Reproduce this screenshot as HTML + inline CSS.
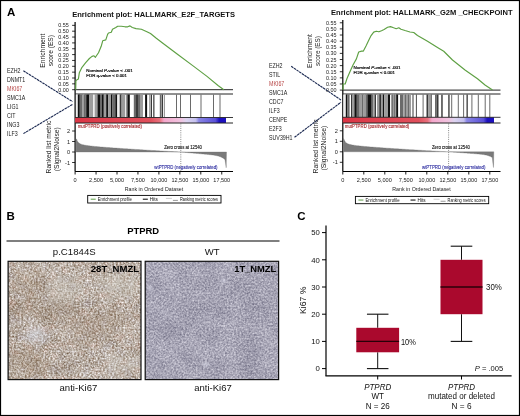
<!DOCTYPE html>
<html><head><meta charset="utf-8"><title>Figure</title>
<style>html,body{margin:0;padding:0;background:#fff;width:520px;height:416px;overflow:hidden;position:relative}
text{font-family:"Liberation Sans", sans-serif}</style></head>
<body>
<svg width="520" height="416" viewBox="0 0 520 416" style="position:absolute;left:0;top:0;will-change:transform">
<defs>
<linearGradient id="gbL" gradientUnits="userSpaceOnUse" x1="75.1" y1="0" x2="226" y2="0">
<stop offset="0" stop-color="#dc3545"/><stop offset="0.5" stop-color="#e0505c"/><stop offset="0.56" stop-color="#e8707c"/>
<stop offset="0.59" stop-color="#f4a8cc"/><stop offset="0.7" stop-color="#f0c4e0"/><stop offset="0.74" stop-color="#dcd4f0"/>
<stop offset="0.8" stop-color="#c4c0ee"/><stop offset="0.82" stop-color="#8a86e4"/><stop offset="0.93" stop-color="#5a50d8"/>
<stop offset="0.955" stop-color="#1c10be"/><stop offset="1" stop-color="#1c10be"/></linearGradient>
<linearGradient id="gbR" gradientUnits="userSpaceOnUse" x1="342.8" y1="0" x2="494" y2="0">
<stop offset="0" stop-color="#dc3545"/><stop offset="0.5" stop-color="#e0505c"/><stop offset="0.56" stop-color="#e8707c"/>
<stop offset="0.59" stop-color="#f4a8cc"/><stop offset="0.7" stop-color="#f0c4e0"/><stop offset="0.74" stop-color="#dcd4f0"/>
<stop offset="0.8" stop-color="#c4c0ee"/><stop offset="0.82" stop-color="#8a86e4"/><stop offset="0.93" stop-color="#5a50d8"/>
<stop offset="0.955" stop-color="#1c10be"/><stop offset="1" stop-color="#1c10be"/></linearGradient>
<filter id="texL" x="0" y="0" width="1" height="1" color-interpolation-filters="sRGB">
 <feTurbulence type="fractalNoise" baseFrequency="0.55" numOctaves="2" seed="3" result="t1"/>
 <feColorMatrix in="t1" type="matrix" values="1 0 0 0 0  1 0 0 0 0  1 0 0 0 0  0 0 0 0 1" result="n1"/>
 <feTurbulence type="fractalNoise" baseFrequency="0.05" numOctaves="2" seed="9" result="t2"/>
 <feColorMatrix in="t2" type="matrix" values="1 0 0 0 0  1 0 0 0 0  1 0 0 0 0  0 0 0 0 1" result="n2"/>
 <feTurbulence type="fractalNoise" baseFrequency="0.12" numOctaves="2" seed="21" result="t3"/>
 <feColorMatrix in="t3" type="matrix" values="0.11 0 0 0 -0.055  0 0 0 0 0  -0.09 0 0 0 0.045  0 0 0 0 1" result="h"/>
 <feComposite in="n1" in2="n2" operator="arithmetic" k1="0" k2="0.6" k3="0.16" k4="0.12" result="n"/>
 <feColorMatrix in="n" type="matrix" values="1 0 0 0 0.1577  1.15 0 0 0 0.0312  1.3 0 0 0 -0.09374  0 0 0 0 1" result="c0"/>
 <feComposite in="c0" in2="h" operator="arithmetic" k1="0" k2="1" k3="1" k4="0" result="c1"/>
 <feGaussianBlur in="c1" stdDeviation="0.35" result="c"/>
 <feComposite in="c" in2="SourceGraphic" operator="in"/>
</filter>
<filter id="texR" x="0" y="0" width="1" height="1" color-interpolation-filters="sRGB">
 <feTurbulence type="fractalNoise" baseFrequency="0.55" numOctaves="2" seed="5" result="t1"/>
 <feColorMatrix in="t1" type="matrix" values="1 0 0 0 0  1 0 0 0 0  1 0 0 0 0  0 0 0 0 1" result="n1"/>
 <feTurbulence type="fractalNoise" baseFrequency="0.05" numOctaves="2" seed="11" result="t2"/>
 <feColorMatrix in="t2" type="matrix" values="1 0 0 0 0  1 0 0 0 0  1 0 0 0 0  0 0 0 0 1" result="n2"/>
 <feComposite in="n1" in2="n2" operator="arithmetic" k1="0" k2="0.36" k3="0.1" k4="0.27" result="n"/>
 <feColorMatrix in="n" type="matrix" values="1 0 0 0 -0.03477  1 0 0 0 -0.04274  0.9 0 0 0 0.089  0 0 0 0 1" result="c0"/>
 <feGaussianBlur in="c0" stdDeviation="0.35" result="c"/>
 <feComposite in="c" in2="SourceGraphic" operator="in"/>
</filter>
<filter id="soft" x="-20%" y="-20%" width="140%" height="140%"><feGaussianBlur stdDeviation="5"/></filter>
<clipPath id="clipL"><rect x="8.1" y="261.3" width="132.9" height="118.3"/></clipPath>
<clipPath id="clipR"><rect x="145.2" y="261.3" width="133.4" height="118.3"/></clipPath>
<radialGradient id="blob" cx="0.5" cy="0.5" r="0.5"><stop offset="0" stop-color="#d4d8e2" stop-opacity="0.5"/><stop offset="0.5" stop-color="#d0d4e0" stop-opacity="0.35"/><stop offset="1" stop-color="#d0d0dc" stop-opacity="0"/></radialGradient>
<radialGradient id="blob2" cx="0.5" cy="0.5" r="0.5"><stop offset="0" stop-color="#dcdcea" stop-opacity="0.55"/><stop offset="0.6" stop-color="#d8d8e6" stop-opacity="0.35"/><stop offset="1" stop-color="#d0d0e0" stop-opacity="0"/></radialGradient>
</defs>
<g font-family='"Liberation Sans", sans-serif'>
<rect x="0" y="0" width="520" height="416" fill="#fff" />
<rect x="0.5" y="0.5" width="519" height="415" fill="none" stroke="#000" stroke-width="1.2"/>
<text x="7" y="16" font-size="11.5" text-anchor="start" font-weight="bold" font-style="normal" fill="#000" >A</text>
<line x1="72.1" y1="89.7" x2="75.1" y2="89.7" stroke="#000" stroke-width="0.8" />
<text x="68.8" y="91.7" font-size="5.7" text-anchor="end" font-weight="normal" font-style="normal" fill="#222" textLength="10.5" lengthAdjust="spacingAndGlyphs" >0.00</text>
<line x1="72.1" y1="83.85000000000001" x2="75.1" y2="83.85000000000001" stroke="#000" stroke-width="0.8" />
<text x="68.8" y="85.85000000000001" font-size="5.7" text-anchor="end" font-weight="normal" font-style="normal" fill="#222" textLength="10.5" lengthAdjust="spacingAndGlyphs" >0.05</text>
<line x1="72.1" y1="78.0" x2="75.1" y2="78.0" stroke="#000" stroke-width="0.8" />
<text x="68.8" y="80.0" font-size="5.7" text-anchor="end" font-weight="normal" font-style="normal" fill="#222" textLength="10.5" lengthAdjust="spacingAndGlyphs" >0.10</text>
<line x1="72.1" y1="72.15" x2="75.1" y2="72.15" stroke="#000" stroke-width="0.8" />
<text x="68.8" y="74.15" font-size="5.7" text-anchor="end" font-weight="normal" font-style="normal" fill="#222" textLength="10.5" lengthAdjust="spacingAndGlyphs" >0.15</text>
<line x1="72.1" y1="66.30000000000001" x2="75.1" y2="66.30000000000001" stroke="#000" stroke-width="0.8" />
<text x="68.8" y="68.30000000000001" font-size="5.7" text-anchor="end" font-weight="normal" font-style="normal" fill="#222" textLength="10.5" lengthAdjust="spacingAndGlyphs" >0.20</text>
<line x1="72.1" y1="60.45" x2="75.1" y2="60.45" stroke="#000" stroke-width="0.8" />
<text x="68.8" y="62.45" font-size="5.7" text-anchor="end" font-weight="normal" font-style="normal" fill="#222" textLength="10.5" lengthAdjust="spacingAndGlyphs" >0.25</text>
<line x1="72.1" y1="54.60000000000001" x2="75.1" y2="54.60000000000001" stroke="#000" stroke-width="0.8" />
<text x="68.8" y="56.60000000000001" font-size="5.7" text-anchor="end" font-weight="normal" font-style="normal" fill="#222" textLength="10.5" lengthAdjust="spacingAndGlyphs" >0.30</text>
<line x1="72.1" y1="48.75000000000001" x2="75.1" y2="48.75000000000001" stroke="#000" stroke-width="0.8" />
<text x="68.8" y="50.75000000000001" font-size="5.7" text-anchor="end" font-weight="normal" font-style="normal" fill="#222" textLength="10.5" lengthAdjust="spacingAndGlyphs" >0.35</text>
<line x1="72.1" y1="42.900000000000006" x2="75.1" y2="42.900000000000006" stroke="#000" stroke-width="0.8" />
<text x="68.8" y="44.900000000000006" font-size="5.7" text-anchor="end" font-weight="normal" font-style="normal" fill="#222" textLength="10.5" lengthAdjust="spacingAndGlyphs" >0.40</text>
<line x1="72.1" y1="37.050000000000004" x2="75.1" y2="37.050000000000004" stroke="#000" stroke-width="0.8" />
<text x="68.8" y="39.050000000000004" font-size="5.7" text-anchor="end" font-weight="normal" font-style="normal" fill="#222" textLength="10.5" lengthAdjust="spacingAndGlyphs" >0.45</text>
<line x1="72.1" y1="31.200000000000003" x2="75.1" y2="31.200000000000003" stroke="#000" stroke-width="0.8" />
<text x="68.8" y="33.2" font-size="5.7" text-anchor="end" font-weight="normal" font-style="normal" fill="#222" textLength="10.5" lengthAdjust="spacingAndGlyphs" >0.50</text>
<line x1="72.1" y1="25.35000000000001" x2="75.1" y2="25.35000000000001" stroke="#000" stroke-width="0.8" />
<text x="68.8" y="27.35000000000001" font-size="5.7" text-anchor="end" font-weight="normal" font-style="normal" fill="#222" textLength="10.5" lengthAdjust="spacingAndGlyphs" >0.55</text>
<g transform="translate(45.2,50.7) rotate(-90)">
<text x="0" y="0" font-size="6.9" text-anchor="middle" font-weight="normal" font-style="normal" fill="#222" textLength="34.3" lengthAdjust="spacingAndGlyphs" >Enrichment</text>
<text x="0" y="8.0" font-size="6.9" text-anchor="middle" font-weight="normal" font-style="normal" fill="#222" textLength="31.3" lengthAdjust="spacingAndGlyphs" >score (ES)</text>
</g>
<line x1="75.1" y1="22" x2="75.1" y2="171.5" stroke="#000" stroke-width="1.2" />
<line x1="75.1" y1="89.7" x2="233" y2="89.7" stroke="#222" stroke-width="1" />
<line x1="75.1" y1="94" x2="233" y2="94" stroke="#222" stroke-width="1" />
<rect x="76" y="94.5" width="1.7999999999999972" height="23.0" fill="#eeeeee" />
<rect x="77.8" y="94.5" width="2.0" height="23.0" fill="#111" />
<rect x="79.8" y="94.5" width="2.799999999999997" height="23.0" fill="#6a6a6a" />
<rect x="82.6" y="94.5" width="1.4000000000000057" height="23.0" fill="#9c9c9c" />
<rect x="84" y="94.5" width="1.5" height="23.0" fill="#6a6a6a" />
<rect x="85.5" y="94.5" width="1.5" height="23.0" fill="#3a3a3a" />
<rect x="87" y="94.5" width="2.4000000000000057" height="23.0" fill="#111" />
<rect x="89.4" y="94.5" width="3.799999999999997" height="23.0" fill="#9c9c9c" />
<rect x="93.2" y="94.5" width="1.5" height="23.0" fill="#eeeeee" />
<rect x="94.7" y="94.5" width="2.799999999999997" height="23.0" fill="#9c9c9c" />
<rect x="97.5" y="94.5" width="2.5" height="23.0" fill="#111" />
<rect x="100" y="94.5" width="1.9000000000000057" height="23.0" fill="#6a6a6a" />
<rect x="101.9" y="94.5" width="1.8999999999999915" height="23.0" fill="#111" />
<rect x="103.8" y="94.5" width="2.4000000000000057" height="23.0" fill="#9c9c9c" />
<rect x="106.2" y="94.5" width="1.8999999999999915" height="23.0" fill="#111" />
<rect x="108.1" y="94.5" width="2.9000000000000057" height="23.0" fill="#9c9c9c" />
<rect x="111" y="94.5" width="1.5" height="23.0" fill="#111" />
<rect x="112.5" y="94.5" width="2.799999999999997" height="23.0" fill="#6a6a6a" />
<rect x="115.3" y="94.5" width="2.0" height="23.0" fill="#111" />
<rect x="117.3" y="94.5" width="2.4000000000000057" height="23.0" fill="#eeeeee" />
<rect x="119.7" y="94.5" width="1.8999999999999915" height="23.0" fill="#3a3a3a" />
<rect x="121.6" y="94.5" width="3.6000000000000085" height="23.0" fill="#9c9c9c" />
<rect x="126.3" y="94.5" width="1.2000000000000028" height="23.0" fill="#6a6a6a" />
<rect x="127.5" y="94.5" width="2.3000000000000114" height="23.0" fill="#111" />
<rect x="133.8" y="94.5" width="2.1999999999999886" height="23.0" fill="#6a6a6a" />
<rect x="136" y="94.5" width="2" height="23.0" fill="#3a3a3a" />
<rect x="138" y="94.5" width="2" height="23.0" fill="#6a6a6a" />
<rect x="140" y="94.5" width="3" height="23.0" fill="#9c9c9c" />
<rect x="145.1" y="94.5" width="2.0" height="23.0" fill="#111" />
<rect x="149.4" y="94.5" width="1.0999999999999943" height="23.0" fill="#6a6a6a" />
<rect x="151" y="94.5" width="1" height="23.0" fill="#3a3a3a" />
<rect x="153" y="94.5" width="1.5999999999999943" height="23.0" fill="#6a6a6a" />
<rect x="159.8" y="94.5" width="1.1999999999999886" height="23.0" fill="#6a6a6a" />
<rect x="161.5" y="94.5" width="1.5" height="23.0" fill="#3a3a3a" />
<rect x="163.8" y="94.5" width="1.1999999999999886" height="23.0" fill="#9c9c9c" />
<rect x="176" y="94.5" width="1" height="23.0" fill="#6a6a6a" />
<rect x="180" y="94.5" width="1" height="23.0" fill="#6a6a6a" />
<rect x="190" y="94.5" width="1" height="23.0" fill="#6a6a6a" />
<rect x="200.5" y="94.5" width="1.0" height="23.0" fill="#6a6a6a" />
<rect x="213" y="94.5" width="1" height="23.0" fill="#6a6a6a" />
<rect x="219.5" y="94.5" width="1.0" height="23.0" fill="#6a6a6a" />
<rect x="75.1" y="117.5" width="150.9" height="5.5" fill="url(#gbL)"/>
<line x1="75.1" y1="117.5" x2="233" y2="117.5" stroke="#222" stroke-width="0.9" />
<line x1="75.1" y1="123" x2="233" y2="123" stroke="#222" stroke-width="1" />
<polyline points="75.7,89.7 75.9,81 76.6,80 78.4,79 79.3,72.8 82,67.3 85.7,62.7 89.4,58.5 92,56.4 94,55.8 95.4,57.3 98.5,52.7 101.2,46.3 102.7,40.8 105.8,39.9 107.6,34.4 108.5,33 111.3,32.2 112.5,29.3 115.8,27.5 117.7,26.2 121.3,26.2 125,26.8 127.7,26.8 130,25.9 132.3,27.5 136,28.6 141.4,29.3 146.9,31.7 150.5,33.5 156,38 163.2,43.5 177.8,54.5 192.4,65.4 207,76.4 218,85.5 223.8,89.7" fill="none" stroke="#5ea043" stroke-width="1.15" stroke-linejoin="round"/>
<text x="86.3" y="71.5" font-size="4.4" text-anchor="start" font-weight="normal" font-style="normal" fill="#000" textLength="46.5" lengthAdjust="spacingAndGlyphs" stroke="#000" stroke-width="0.18">Nominal <tspan font-style="italic">P</tspan>-value &lt; .001</text>
<text x="86.3" y="76.5" font-size="4.4" text-anchor="start" font-weight="normal" font-style="normal" fill="#000" textLength="40.7" lengthAdjust="spacingAndGlyphs" stroke="#000" stroke-width="0.18">FDR q-value &lt; 0.001</text>
<line x1="72.1" y1="131.0" x2="75.1" y2="131.0" stroke="#000" stroke-width="0.8" />
<text x="70.1" y="133.0" font-size="5.6" text-anchor="end" font-weight="normal" font-style="normal" fill="#222" >2</text>
<line x1="72.1" y1="141.5" x2="75.1" y2="141.5" stroke="#000" stroke-width="0.8" />
<text x="70.1" y="143.5" font-size="5.6" text-anchor="end" font-weight="normal" font-style="normal" fill="#222" >1</text>
<line x1="72.1" y1="152.0" x2="75.1" y2="152.0" stroke="#000" stroke-width="0.8" />
<text x="70.1" y="154.0" font-size="5.6" text-anchor="end" font-weight="normal" font-style="normal" fill="#222" >0</text>
<line x1="72.1" y1="162.5" x2="75.1" y2="162.5" stroke="#000" stroke-width="0.8" />
<text x="70.1" y="164.5" font-size="5.6" text-anchor="end" font-weight="normal" font-style="normal" fill="#222" >-1</text>
<polygon points="76.1,152 76.1,138.88 76.19,138.88 76.39,138.88 76.65,139.22 76.97,140.2 77.34,141.04 77.76,141.75 78.22,142.34 78.73,142.84 79.28,143.25 79.86,143.61 80.48,143.92 81.13,144.18 81.82,144.42 82.54,144.63 83.29,144.82 84.07,145.0 84.88,145.16 85.73,145.31 86.6,145.45 87.49,145.58 88.42,145.71 89.37,145.83 90.35,145.95 91.35,146.06 92.38,146.18 93.44,146.28 94.52,146.39 95.62,146.5 96.75,146.6 97.9,146.7 99.07,146.81 100.27,146.91 101.49,147.01 102.73,147.11 103.99,147.21 105.28,147.31 106.59,147.41 107.92,147.51 109.27,147.61 110.64,147.71 112.03,147.81 113.44,147.92 114.88,148.02 116.33,148.12 117.8,148.22 119.29,148.33 120.81,148.43 122.34,148.54 123.89,148.64 125.46,148.75 127.05,148.85 128.65,148.96 130.28,149.07 131.93,149.17 133.59,149.28 135.27,149.39 136.97,149.5 138.69,149.61 140.42,149.72 142.18,149.83 143.95,149.94 145.74,150.05 147.54,150.16 149.36,150.27 151.2,150.38 153.06,150.5 154.94,150.61 156.83,150.72 158.73,150.83 160.66,150.94 162.6,151.06 164.56,151.17 166.53,151.28 168.52,151.39 170.53,151.5 172.55,151.61 174.59,151.71 176.64,151.81 178.71,151.91 180.8,152.0 181.35,152.05 181.91,152.1 182.46,152.15 183.01,152.2 183.56,152.25 184.12,152.3 184.67,152.35 185.22,152.4 185.77,152.45 186.33,152.5 186.88,152.55 187.43,152.6 187.98,152.65 188.53,152.7 189.09,152.75 189.64,152.8 190.19,152.85 190.75,152.9 191.3,152.95 191.85,153.0 192.4,153.05 192.96,153.1 193.51,153.15 194.06,153.2 194.61,153.25 195.17,153.3 195.72,153.35 196.27,153.4 196.82,153.45 197.38,153.5 197.93,153.55 198.48,153.6 199.03,153.65 199.59,153.7 200.14,153.75 200.69,153.8 201.24,153.85 201.8,153.9 202.35,153.95 202.9,154.0 203.45,154.05 204.0,154.1 204.56,154.15 205.11,154.2 205.66,154.26 206.22,154.31 206.77,154.36 207.32,154.42 207.87,154.47 208.43,154.53 208.98,154.58 209.53,154.64 210.08,154.7 210.63,154.77 211.19,154.83 211.74,154.9 212.29,154.97 212.84,155.04 213.4,155.12 213.95,155.2 214.5,155.29 215.06,155.38 215.61,155.48 216.16,155.59 216.71,155.7 217.26,155.83 217.82,155.97 218.37,156.12 218.92,156.28 219.47,156.46 220.03,156.66 220.58,156.87 221.13,157.11 221.69,157.38 222.24,157.67 222.79,157.99 223.34,158.35 223.89,158.74 224.45,159.18 225.0,159.66 225.6,163.55 226.2,167.75 226.5,152" fill="#7a7a7a" stroke="#666" stroke-width="0.3"/>
<line x1="180.8" y1="123.5" x2="180.8" y2="171.5" stroke="#555" stroke-width="0.7" stroke-dasharray="1,1.2"/>
<text x="164.2" y="149" font-size="4.6" text-anchor="start" font-weight="normal" font-style="normal" fill="#111" textLength="37.8" lengthAdjust="spacingAndGlyphs" stroke="#111" stroke-width="0.12">Zero cross at 12540</text>
<text x="77.7" y="128" font-size="4.7" text-anchor="start" font-weight="normal" font-style="normal" fill="#a82428" textLength="64.3" lengthAdjust="spacingAndGlyphs" stroke="#a82428" stroke-width="0.1">mutPTPRD (positively correlated)</text>
<text x="154.3" y="168.5" font-size="4.7" text-anchor="start" font-weight="normal" font-style="normal" fill="#2c2ca0" textLength="63.2" lengthAdjust="spacingAndGlyphs" stroke="#2c2ca0" stroke-width="0.1">wtPTPRD (negatively correlated)</text>
<g transform="translate(51.4,147.1) rotate(-90)">
<text x="0" y="0" font-size="7.6" text-anchor="middle" font-weight="normal" font-style="normal" fill="#222" textLength="52.6" lengthAdjust="spacingAndGlyphs" >Ranked list metric</text>
<text x="-2.2" y="7.8" font-size="7.6" text-anchor="middle" font-weight="normal" font-style="normal" fill="#222" textLength="44" lengthAdjust="spacingAndGlyphs" >(Signal2Noise)</text>
</g>
<line x1="75.1" y1="171.5" x2="233" y2="171.5" stroke="#000" stroke-width="1.2" />
<line x1="75.1" y1="171.5" x2="75.1" y2="174.5" stroke="#000" stroke-width="0.9" />
<text x="75.1" y="182.0" font-size="5.6" text-anchor="middle" font-weight="normal" font-style="normal" fill="#222" >0</text>
<line x1="96.05" y1="171.5" x2="96.05" y2="174.5" stroke="#000" stroke-width="0.9" />
<text x="96.05" y="182.0" font-size="5.6" text-anchor="middle" font-weight="normal" font-style="normal" fill="#222" textLength="14.0" lengthAdjust="spacingAndGlyphs" >2,500</text>
<line x1="117.0" y1="171.5" x2="117.0" y2="174.5" stroke="#000" stroke-width="0.9" />
<text x="117.0" y="182.0" font-size="5.6" text-anchor="middle" font-weight="normal" font-style="normal" fill="#222" textLength="14.0" lengthAdjust="spacingAndGlyphs" >5,000</text>
<line x1="137.95" y1="171.5" x2="137.95" y2="174.5" stroke="#000" stroke-width="0.9" />
<text x="137.95" y="182.0" font-size="5.6" text-anchor="middle" font-weight="normal" font-style="normal" fill="#222" textLength="14.0" lengthAdjust="spacingAndGlyphs" >7,500</text>
<line x1="158.89999999999998" y1="171.5" x2="158.89999999999998" y2="174.5" stroke="#000" stroke-width="0.9" />
<text x="158.89999999999998" y="182.0" font-size="5.6" text-anchor="middle" font-weight="normal" font-style="normal" fill="#222" textLength="16.799999999999997" lengthAdjust="spacingAndGlyphs" >10,000</text>
<line x1="179.85" y1="171.5" x2="179.85" y2="174.5" stroke="#000" stroke-width="0.9" />
<text x="179.85" y="182.0" font-size="5.6" text-anchor="middle" font-weight="normal" font-style="normal" fill="#222" textLength="16.799999999999997" lengthAdjust="spacingAndGlyphs" >12,500</text>
<line x1="200.79999999999998" y1="171.5" x2="200.79999999999998" y2="174.5" stroke="#000" stroke-width="0.9" />
<text x="200.79999999999998" y="182.0" font-size="5.6" text-anchor="middle" font-weight="normal" font-style="normal" fill="#222" textLength="16.799999999999997" lengthAdjust="spacingAndGlyphs" >15,000</text>
<line x1="221.75" y1="171.5" x2="221.75" y2="174.5" stroke="#000" stroke-width="0.9" />
<text x="221.75" y="182.0" font-size="5.6" text-anchor="middle" font-weight="normal" font-style="normal" fill="#222" textLength="16.799999999999997" lengthAdjust="spacingAndGlyphs" >17,500</text>
<text x="154" y="191" font-size="6.2" text-anchor="middle" font-weight="normal" font-style="normal" fill="#222" textLength="58.5" lengthAdjust="spacingAndGlyphs" >Rank in Ordered Dataset</text>
<rect x="87.7" y="195.4" width="133.3" height="7.6" fill="#fff" stroke="#000" stroke-width="0.9"/>
<line x1="90.70676691729324" y1="199.20000000000002" x2="95.71804511278197" y2="199.20000000000002" stroke="#5e9e45" stroke-width="1" />
<text x="97.72255639097745" y="200.9" font-size="4.6" text-anchor="start" font-weight="normal" font-style="normal" fill="#111" textLength="34.07669172932331" lengthAdjust="spacingAndGlyphs" >Enrichment profile</text>
<line x1="142.82406015037594" y1="199.20000000000002" x2="147.83533834586467" y2="199.20000000000002" stroke="#000" stroke-width="1" />
<text x="149.83984962406015" y="200.9" font-size="4.6" text-anchor="start" font-weight="normal" font-style="normal" fill="#111" textLength="8.018045112781955" lengthAdjust="spacingAndGlyphs" >Hits</text>
<line x1="165.87593984962405" y1="198.4" x2="171.88947368421054" y2="198.4" stroke="#aaa" stroke-width="0.6" />
<line x1="172.89172932330828" y1="200.4" x2="177.90300751879698" y2="200.4" stroke="#555" stroke-width="0.6" />
<text x="179.9075187969925" y="200.9" font-size="4.6" text-anchor="start" font-weight="normal" font-style="normal" fill="#111" textLength="38.08571428571429" lengthAdjust="spacingAndGlyphs" >Ranking metric scores</text>
<text x="7" y="73.0" font-size="6.3" text-anchor="start" font-weight="normal" font-style="normal" fill="#222" textLength="13.55" lengthAdjust="spacingAndGlyphs" >EZH2</text>
<text x="7" y="82.03" font-size="6.3" text-anchor="start" font-weight="normal" font-style="normal" fill="#222" textLength="18.25" lengthAdjust="spacingAndGlyphs" >DNMT1</text>
<text x="7" y="91.06" font-size="6.3" text-anchor="start" font-weight="normal" font-style="normal" fill="#b84848" textLength="15.32" lengthAdjust="spacingAndGlyphs" >MKI67</text>
<text x="7" y="100.08999999999999" font-size="6.3" text-anchor="start" font-weight="normal" font-style="normal" fill="#222" textLength="18.26" lengthAdjust="spacingAndGlyphs" >SMC1A</text>
<text x="7" y="109.11999999999999" font-size="6.3" text-anchor="start" font-weight="normal" font-style="normal" fill="#222" textLength="11.49" lengthAdjust="spacingAndGlyphs" >LIG1</text>
<text x="7" y="118.14999999999999" font-size="6.3" text-anchor="start" font-weight="normal" font-style="normal" fill="#222" textLength="8.54" lengthAdjust="spacingAndGlyphs" >CIT</text>
<text x="7" y="127.17999999999999" font-size="6.3" text-anchor="start" font-weight="normal" font-style="normal" fill="#222" textLength="12.37" lengthAdjust="spacingAndGlyphs" >ING3</text>
<text x="7" y="136.20999999999998" font-size="6.3" text-anchor="start" font-weight="normal" font-style="normal" fill="#222" textLength="10.61" lengthAdjust="spacingAndGlyphs" >ILF3</text>
<line x1="23.4" y1="70.8" x2="72.5" y2="101.6" stroke="#1a2850" stroke-width="1.1" stroke-dasharray="2.6,0.6"/>
<line x1="23.4" y1="133.6" x2="72.5" y2="104.4" stroke="#1a2850" stroke-width="1.1" stroke-dasharray="2.6,0.6"/>
<text x="72.2" y="17.3" font-size="7.9" text-anchor="start" font-weight="bold" font-style="normal" fill="#111" textLength="162.8" lengthAdjust="spacingAndGlyphs" >Enrichment plot: HALLMARK_E2F_TARGETS</text>
<line x1="339.8" y1="90.1" x2="342.8" y2="90.1" stroke="#000" stroke-width="0.8" />
<text x="336.5" y="92.1" font-size="5.7" text-anchor="end" font-weight="normal" font-style="normal" fill="#222" textLength="10.5" lengthAdjust="spacingAndGlyphs" >0.00</text>
<line x1="339.8" y1="83.97999999999999" x2="342.8" y2="83.97999999999999" stroke="#000" stroke-width="0.8" />
<text x="336.5" y="85.97999999999999" font-size="5.7" text-anchor="end" font-weight="normal" font-style="normal" fill="#222" textLength="10.5" lengthAdjust="spacingAndGlyphs" >0.05</text>
<line x1="339.8" y1="77.86" x2="342.8" y2="77.86" stroke="#000" stroke-width="0.8" />
<text x="336.5" y="79.86" font-size="5.7" text-anchor="end" font-weight="normal" font-style="normal" fill="#222" textLength="10.5" lengthAdjust="spacingAndGlyphs" >0.10</text>
<line x1="339.8" y1="71.74" x2="342.8" y2="71.74" stroke="#000" stroke-width="0.8" />
<text x="336.5" y="73.74" font-size="5.7" text-anchor="end" font-weight="normal" font-style="normal" fill="#222" textLength="10.5" lengthAdjust="spacingAndGlyphs" >0.15</text>
<line x1="339.8" y1="65.61999999999999" x2="342.8" y2="65.61999999999999" stroke="#000" stroke-width="0.8" />
<text x="336.5" y="67.61999999999999" font-size="5.7" text-anchor="end" font-weight="normal" font-style="normal" fill="#222" textLength="10.5" lengthAdjust="spacingAndGlyphs" >0.20</text>
<line x1="339.8" y1="59.49999999999999" x2="342.8" y2="59.49999999999999" stroke="#000" stroke-width="0.8" />
<text x="336.5" y="61.49999999999999" font-size="5.7" text-anchor="end" font-weight="normal" font-style="normal" fill="#222" textLength="10.5" lengthAdjust="spacingAndGlyphs" >0.25</text>
<line x1="339.8" y1="53.379999999999995" x2="342.8" y2="53.379999999999995" stroke="#000" stroke-width="0.8" />
<text x="336.5" y="55.379999999999995" font-size="5.7" text-anchor="end" font-weight="normal" font-style="normal" fill="#222" textLength="10.5" lengthAdjust="spacingAndGlyphs" >0.30</text>
<line x1="339.8" y1="47.25999999999999" x2="342.8" y2="47.25999999999999" stroke="#000" stroke-width="0.8" />
<text x="336.5" y="49.25999999999999" font-size="5.7" text-anchor="end" font-weight="normal" font-style="normal" fill="#222" textLength="10.5" lengthAdjust="spacingAndGlyphs" >0.35</text>
<line x1="339.8" y1="41.13999999999999" x2="342.8" y2="41.13999999999999" stroke="#000" stroke-width="0.8" />
<text x="336.5" y="43.13999999999999" font-size="5.7" text-anchor="end" font-weight="normal" font-style="normal" fill="#222" textLength="10.5" lengthAdjust="spacingAndGlyphs" >0.40</text>
<line x1="339.8" y1="35.019999999999996" x2="342.8" y2="35.019999999999996" stroke="#000" stroke-width="0.8" />
<text x="336.5" y="37.019999999999996" font-size="5.7" text-anchor="end" font-weight="normal" font-style="normal" fill="#222" textLength="10.5" lengthAdjust="spacingAndGlyphs" >0.45</text>
<line x1="339.8" y1="28.89999999999999" x2="342.8" y2="28.89999999999999" stroke="#000" stroke-width="0.8" />
<text x="336.5" y="30.89999999999999" font-size="5.7" text-anchor="end" font-weight="normal" font-style="normal" fill="#222" textLength="10.5" lengthAdjust="spacingAndGlyphs" >0.50</text>
<line x1="339.8" y1="22.779999999999987" x2="342.8" y2="22.779999999999987" stroke="#000" stroke-width="0.8" />
<text x="336.5" y="24.779999999999987" font-size="5.7" text-anchor="end" font-weight="normal" font-style="normal" fill="#222" textLength="10.5" lengthAdjust="spacingAndGlyphs" >0.55</text>
<g transform="translate(311.9,51.1) rotate(-90)">
<text x="0" y="0" font-size="7.0" text-anchor="middle" font-weight="normal" font-style="normal" fill="#222" textLength="34" lengthAdjust="spacingAndGlyphs" >Enrichment</text>
<text x="0" y="8.6" font-size="7.0" text-anchor="middle" font-weight="normal" font-style="normal" fill="#222" textLength="30" lengthAdjust="spacingAndGlyphs" >score (ES)</text>
</g>
<line x1="342.8" y1="20" x2="342.8" y2="171.5" stroke="#000" stroke-width="1.2" />
<line x1="342.8" y1="90.1" x2="500.5" y2="90.1" stroke="#222" stroke-width="1" />
<line x1="342.8" y1="94" x2="500.5" y2="94" stroke="#222" stroke-width="1" />
<rect x="343.4" y="94.5" width="2.400000000000034" height="22.799999999999997" fill="#eeeeee" />
<rect x="345.8" y="94.5" width="1.3999999999999773" height="22.799999999999997" fill="#111" />
<rect x="347.2" y="94.5" width="2.400000000000034" height="22.799999999999997" fill="#6a6a6a" />
<rect x="351" y="94.5" width="1.5" height="22.799999999999997" fill="#3a3a3a" />
<rect x="352.5" y="94.5" width="1.8999999999999773" height="22.799999999999997" fill="#9c9c9c" />
<rect x="354.4" y="94.5" width="2.400000000000034" height="22.799999999999997" fill="#111" />
<rect x="356.8" y="94.5" width="2.8999999999999773" height="22.799999999999997" fill="#6a6a6a" />
<rect x="359.7" y="94.5" width="1.900000000000034" height="22.799999999999997" fill="#9c9c9c" />
<rect x="361.6" y="94.5" width="2.0" height="22.799999999999997" fill="#6a6a6a" />
<rect x="363.6" y="94.5" width="1.8999999999999773" height="22.799999999999997" fill="#9c9c9c" />
<rect x="365.5" y="94.5" width="1.8999999999999773" height="22.799999999999997" fill="#6a6a6a" />
<rect x="367.4" y="94.5" width="4.300000000000011" height="22.799999999999997" fill="#111" />
<rect x="371.7" y="94.5" width="1.5" height="22.799999999999997" fill="#6a6a6a" />
<rect x="373.2" y="94.5" width="1.400000000000034" height="22.799999999999997" fill="#9c9c9c" />
<rect x="374.6" y="94.5" width="1.3999999999999773" height="22.799999999999997" fill="#3a3a3a" />
<rect x="377" y="94.5" width="2.3999999999999773" height="22.799999999999997" fill="#9c9c9c" />
<rect x="379.4" y="94.5" width="1.5" height="22.799999999999997" fill="#111" />
<rect x="380.9" y="94.5" width="1.900000000000034" height="22.799999999999997" fill="#9c9c9c" />
<rect x="382.8" y="94.5" width="1.3999999999999773" height="22.799999999999997" fill="#111" />
<rect x="384.2" y="94.5" width="3.8000000000000114" height="22.799999999999997" fill="#9c9c9c" />
<rect x="388" y="94.5" width="2" height="22.799999999999997" fill="#111" />
<rect x="390.9" y="94.5" width="5.300000000000011" height="22.799999999999997" fill="#9c9c9c" />
<rect x="392" y="94.5" width="0.8000000000000114" height="22.799999999999997" fill="#6a6a6a" />
<rect x="394" y="94.5" width="0.8000000000000114" height="22.799999999999997" fill="#6a6a6a" />
<rect x="396.2" y="94.5" width="1.900000000000034" height="22.799999999999997" fill="#111" />
<rect x="400" y="94.5" width="3.3999999999999773" height="22.799999999999997" fill="#6a6a6a" />
<rect x="403.4" y="94.5" width="7.600000000000023" height="22.799999999999997" fill="#9c9c9c" />
<rect x="405" y="94.5" width="1" height="22.799999999999997" fill="#6a6a6a" />
<rect x="408" y="94.5" width="1" height="22.799999999999997" fill="#6a6a6a" />
<rect x="412.5" y="94.5" width="1.0" height="22.799999999999997" fill="#3a3a3a" />
<rect x="415.9" y="94.5" width="0.9000000000000341" height="22.799999999999997" fill="#3a3a3a" />
<rect x="422.6" y="94.5" width="1.0" height="22.799999999999997" fill="#6a6a6a" />
<rect x="426.5" y="94.5" width="1.8999999999999773" height="22.799999999999997" fill="#3a3a3a" />
<rect x="428.4" y="94.5" width="2.400000000000034" height="22.799999999999997" fill="#9c9c9c" />
<rect x="430.8" y="94.5" width="0.8999999999999773" height="22.799999999999997" fill="#3a3a3a" />
<rect x="435" y="94.5" width="1.5" height="22.799999999999997" fill="#6a6a6a" />
<rect x="436.5" y="94.5" width="2.0" height="22.799999999999997" fill="#3a3a3a" />
<rect x="441" y="94.5" width="1.8999999999999773" height="22.799999999999997" fill="#6a6a6a" />
<rect x="448" y="94.5" width="1.8000000000000114" height="22.799999999999997" fill="#6a6a6a" />
<rect x="451.2" y="94.5" width="1.0" height="22.799999999999997" fill="#6a6a6a" />
<rect x="457.8" y="94.5" width="1.0" height="22.799999999999997" fill="#6a6a6a" />
<rect x="463.1" y="94.5" width="1.0" height="22.799999999999997" fill="#6a6a6a" />
<rect x="466.5" y="94.5" width="1.3000000000000114" height="22.799999999999997" fill="#3a3a3a" />
<rect x="471.4" y="94.5" width="1.0" height="22.799999999999997" fill="#6a6a6a" />
<rect x="477.8" y="94.5" width="1.0" height="22.799999999999997" fill="#6a6a6a" />
<rect x="484.7" y="94.5" width="1.0" height="22.799999999999997" fill="#6a6a6a" />
<rect x="489.3" y="94.5" width="1.0" height="22.799999999999997" fill="#6a6a6a" />
<rect x="342.8" y="117.3" width="151.2" height="5.700000000000003" fill="url(#gbR)"/>
<line x1="342.8" y1="117.3" x2="500.5" y2="117.3" stroke="#222" stroke-width="0.9" />
<line x1="342.8" y1="123" x2="500.5" y2="123" stroke="#222" stroke-width="1" />
<polyline points="343,90 343.1,84 345.2,84 346.9,78.8 349.5,72.8 353,65 356.4,58.9 358.7,52 361.6,51.1 363.4,51.1 366,46 368.5,40.8 371.1,35.6 373.7,32.1 376.3,31.2 378.9,31.8 381.5,30.7 384.1,29.5 387.6,27.3 390.5,26.6 393.6,27.8 396.2,28.7 398.8,27.8 401,29.2 405,30.5 410,32 413.75,32.5 417.5,35.5 427.5,41.25 437.5,47.5 443.75,51.25 452.5,60 465,70 477.5,78.75 485,85 492.5,90" fill="none" stroke="#5ea043" stroke-width="1.15" stroke-linejoin="round"/>
<text x="353.5" y="69.3" font-size="4.4" text-anchor="start" font-weight="normal" font-style="normal" fill="#000" textLength="47" lengthAdjust="spacingAndGlyphs" stroke="#000" stroke-width="0.18">Nominal <tspan font-style="italic">P</tspan>-value &lt; .001</text>
<text x="353.5" y="74.3" font-size="4.4" text-anchor="start" font-weight="normal" font-style="normal" fill="#000" textLength="41.5" lengthAdjust="spacingAndGlyphs" stroke="#000" stroke-width="0.18">FDR q-value &lt; 0.001</text>
<line x1="339.8" y1="130.8" x2="342.8" y2="130.8" stroke="#000" stroke-width="0.8" />
<text x="337.8" y="132.8" font-size="5.6" text-anchor="end" font-weight="normal" font-style="normal" fill="#222" >2</text>
<line x1="339.8" y1="141.3" x2="342.8" y2="141.3" stroke="#000" stroke-width="0.8" />
<text x="337.8" y="143.3" font-size="5.6" text-anchor="end" font-weight="normal" font-style="normal" fill="#222" >1</text>
<line x1="339.8" y1="151.8" x2="342.8" y2="151.8" stroke="#000" stroke-width="0.8" />
<text x="337.8" y="153.8" font-size="5.6" text-anchor="end" font-weight="normal" font-style="normal" fill="#222" >0</text>
<line x1="339.8" y1="162.3" x2="342.8" y2="162.3" stroke="#000" stroke-width="0.8" />
<text x="337.8" y="164.3" font-size="5.6" text-anchor="end" font-weight="normal" font-style="normal" fill="#222" >-1</text>
<polygon points="343.40000000000003,151.8 343.4,138.68 343.49,138.68 343.69,138.68 343.95,139.02 344.27,140.0 344.65,140.84 345.07,141.55 345.53,142.14 346.04,142.64 346.59,143.05 347.18,143.41 347.8,143.72 348.46,143.98 349.15,144.22 349.87,144.43 350.62,144.62 351.41,144.8 352.23,144.96 353.07,145.11 353.95,145.25 354.85,145.38 355.78,145.51 356.73,145.63 357.72,145.75 358.73,145.86 359.76,145.98 360.82,146.08 361.9,146.19 363.01,146.3 364.14,146.4 365.3,146.5 366.48,146.61 367.68,146.71 368.91,146.81 370.16,146.91 371.43,147.01 372.72,147.11 374.03,147.21 375.37,147.31 376.73,147.41 378.1,147.51 379.5,147.61 380.92,147.72 382.36,147.82 383.82,147.92 385.3,148.02 386.8,148.13 388.32,148.23 389.86,148.34 391.42,148.44 392.99,148.55 394.59,148.65 396.21,148.76 397.84,148.87 399.49,148.97 401.16,149.08 402.85,149.19 404.56,149.3 406.29,149.41 408.03,149.52 409.79,149.63 411.57,149.74 413.37,149.85 415.18,149.96 417.01,150.07 418.86,150.18 420.73,150.3 422.61,150.41 424.51,150.52 426.43,150.63 428.36,150.74 430.31,150.86 432.28,150.97 434.26,151.08 436.26,151.19 438.28,151.3 440.31,151.41 442.36,151.51 444.42,151.61 446.5,151.71 448.6,151.8 449.15,151.84 449.69,151.88 450.24,151.92 450.79,151.96 451.33,152.0 451.88,152.04 452.42,152.08 452.97,152.12 453.52,152.15 454.06,152.19 454.61,152.23 455.16,152.27 455.7,152.31 456.25,152.35 456.79,152.39 457.34,152.43 457.89,152.47 458.43,152.51 458.98,152.55 459.53,152.59 460.07,152.63 460.62,152.67 461.16,152.71 461.71,152.75 462.26,152.78 462.8,152.82 463.35,152.86 463.9,152.9 464.44,152.94 464.99,152.98 465.53,153.02 466.08,153.06 466.63,153.1 467.17,153.14 467.72,153.18 468.27,153.22 468.81,153.26 469.36,153.3 469.9,153.34 470.45,153.38 471.0,153.42 471.54,153.46 472.09,153.5 472.63,153.54 473.18,153.58 473.73,153.62 474.27,153.66 474.82,153.71 475.37,153.75 475.91,153.79 476.46,153.84 477.0,153.88 477.55,153.93 478.1,153.98 478.64,154.03 479.19,154.08 479.74,154.13 480.28,154.19 480.83,154.25 481.38,154.31 481.92,154.38 482.47,154.45 483.01,154.52 483.56,154.6 484.11,154.69 484.65,154.78 485.2,154.88 485.75,154.99 486.29,155.11 486.84,155.25 487.38,155.39 487.93,155.55 488.48,155.73 489.02,155.92 489.57,156.13 490.12,156.36 490.66,156.62 491.21,156.91 491.75,157.23 492.3,157.58 492.9,163.35000000000002 493.5,167.55 493.8,151.8" fill="#7a7a7a" stroke="#666" stroke-width="0.3"/>
<line x1="448.6" y1="123.5" x2="448.6" y2="171.5" stroke="#555" stroke-width="0.7" stroke-dasharray="1,1.2"/>
<text x="432" y="149" font-size="4.6" text-anchor="start" font-weight="normal" font-style="normal" fill="#111" textLength="38" lengthAdjust="spacingAndGlyphs" stroke="#111" stroke-width="0.12">Zero cross at 12540</text>
<text x="344.8" y="127.5" font-size="4.7" text-anchor="start" font-weight="normal" font-style="normal" fill="#a82428" textLength="64.5" lengthAdjust="spacingAndGlyphs" stroke="#a82428" stroke-width="0.1">mutPTPRD (positively correlated)</text>
<text x="422" y="168.5" font-size="4.7" text-anchor="start" font-weight="normal" font-style="normal" fill="#2c2ca0" textLength="63.5" lengthAdjust="spacingAndGlyphs" stroke="#2c2ca0" stroke-width="0.1">wtPTPRD (negatively correlated)</text>
<g transform="translate(318.3,146.4) rotate(-90)">
<text x="0" y="0" font-size="7.6" text-anchor="middle" font-weight="normal" font-style="normal" fill="#222" textLength="54" lengthAdjust="spacingAndGlyphs" >Ranked list metric</text>
<text x="-1.8" y="7.8" font-size="7.6" text-anchor="middle" font-weight="normal" font-style="normal" fill="#222" textLength="44.8" lengthAdjust="spacingAndGlyphs" >(Signal2Noise)</text>
</g>
<line x1="342.8" y1="171.5" x2="500.5" y2="171.5" stroke="#000" stroke-width="1.2" />
<line x1="342.8" y1="171.5" x2="342.8" y2="174.5" stroke="#000" stroke-width="0.9" />
<text x="342.8" y="182.0" font-size="5.6" text-anchor="middle" font-weight="normal" font-style="normal" fill="#222" >0</text>
<line x1="363.8" y1="171.5" x2="363.8" y2="174.5" stroke="#000" stroke-width="0.9" />
<text x="363.8" y="182.0" font-size="5.6" text-anchor="middle" font-weight="normal" font-style="normal" fill="#222" textLength="14.0" lengthAdjust="spacingAndGlyphs" >2,500</text>
<line x1="384.8" y1="171.5" x2="384.8" y2="174.5" stroke="#000" stroke-width="0.9" />
<text x="384.8" y="182.0" font-size="5.6" text-anchor="middle" font-weight="normal" font-style="normal" fill="#222" textLength="14.0" lengthAdjust="spacingAndGlyphs" >5,000</text>
<line x1="405.8" y1="171.5" x2="405.8" y2="174.5" stroke="#000" stroke-width="0.9" />
<text x="405.8" y="182.0" font-size="5.6" text-anchor="middle" font-weight="normal" font-style="normal" fill="#222" textLength="14.0" lengthAdjust="spacingAndGlyphs" >7,500</text>
<line x1="426.8" y1="171.5" x2="426.8" y2="174.5" stroke="#000" stroke-width="0.9" />
<text x="426.8" y="182.0" font-size="5.6" text-anchor="middle" font-weight="normal" font-style="normal" fill="#222" textLength="16.799999999999997" lengthAdjust="spacingAndGlyphs" >10,000</text>
<line x1="447.8" y1="171.5" x2="447.8" y2="174.5" stroke="#000" stroke-width="0.9" />
<text x="447.8" y="182.0" font-size="5.6" text-anchor="middle" font-weight="normal" font-style="normal" fill="#222" textLength="16.799999999999997" lengthAdjust="spacingAndGlyphs" >12,500</text>
<line x1="468.8" y1="171.5" x2="468.8" y2="174.5" stroke="#000" stroke-width="0.9" />
<text x="468.8" y="182.0" font-size="5.6" text-anchor="middle" font-weight="normal" font-style="normal" fill="#222" textLength="16.799999999999997" lengthAdjust="spacingAndGlyphs" >15,000</text>
<line x1="489.8" y1="171.5" x2="489.8" y2="174.5" stroke="#000" stroke-width="0.9" />
<text x="489.8" y="182.0" font-size="5.6" text-anchor="middle" font-weight="normal" font-style="normal" fill="#222" textLength="16.799999999999997" lengthAdjust="spacingAndGlyphs" >17,500</text>
<text x="421.5" y="190.5" font-size="6.2" text-anchor="middle" font-weight="normal" font-style="normal" fill="#222" textLength="58.5" lengthAdjust="spacingAndGlyphs" >Rank in Ordered Dataset</text>
<rect x="355.4" y="196.4" width="133.3" height="7.3" fill="#fff" stroke="#000" stroke-width="0.9"/>
<line x1="358.4067669172932" y1="200.05" x2="363.41804511278195" y2="200.05" stroke="#5e9e45" stroke-width="1" />
<text x="365.42255639097743" y="201.75" font-size="4.6" text-anchor="start" font-weight="normal" font-style="normal" fill="#111" textLength="34.07669172932331" lengthAdjust="spacingAndGlyphs" >Enrichment profile</text>
<line x1="410.52406015037593" y1="200.05" x2="415.53533834586466" y2="200.05" stroke="#000" stroke-width="1" />
<text x="417.53984962406014" y="201.75" font-size="4.6" text-anchor="start" font-weight="normal" font-style="normal" fill="#111" textLength="8.018045112781955" lengthAdjust="spacingAndGlyphs" >Hits</text>
<line x1="433.57593984962404" y1="199.25" x2="439.5894736842105" y2="199.25" stroke="#aaa" stroke-width="0.6" />
<line x1="440.59172932330824" y1="201.25" x2="445.60300751879697" y2="201.25" stroke="#555" stroke-width="0.6" />
<text x="447.60751879699245" y="201.75" font-size="4.6" text-anchor="start" font-weight="normal" font-style="normal" fill="#111" textLength="38.08571428571429" lengthAdjust="spacingAndGlyphs" >Ranking metric scores</text>
<text x="269" y="67.60000000000001" font-size="6.3" text-anchor="start" font-weight="normal" font-style="normal" fill="#222" textLength="13.55" lengthAdjust="spacingAndGlyphs" >EZH2</text>
<text x="269" y="76.59" font-size="6.3" text-anchor="start" font-weight="normal" font-style="normal" fill="#222" textLength="11.19" lengthAdjust="spacingAndGlyphs" >STIL</text>
<text x="269" y="85.58000000000001" font-size="6.3" text-anchor="start" font-weight="normal" font-style="normal" fill="#b84848" textLength="15.32" lengthAdjust="spacingAndGlyphs" >MKI67</text>
<text x="269" y="94.57000000000001" font-size="6.3" text-anchor="start" font-weight="normal" font-style="normal" fill="#222" textLength="18.26" lengthAdjust="spacingAndGlyphs" >SMC1A</text>
<text x="269" y="103.56000000000002" font-size="6.3" text-anchor="start" font-weight="normal" font-style="normal" fill="#222" textLength="14.43" lengthAdjust="spacingAndGlyphs" >CDC7</text>
<text x="269" y="112.55000000000001" font-size="6.3" text-anchor="start" font-weight="normal" font-style="normal" fill="#222" textLength="10.61" lengthAdjust="spacingAndGlyphs" >ILF3</text>
<text x="269" y="121.54" font-size="6.3" text-anchor="start" font-weight="normal" font-style="normal" fill="#222" textLength="18.26" lengthAdjust="spacingAndGlyphs" >CENPE</text>
<text x="269" y="130.53" font-size="6.3" text-anchor="start" font-weight="normal" font-style="normal" fill="#222" textLength="12.67" lengthAdjust="spacingAndGlyphs" >E2F3</text>
<text x="269" y="139.51999999999998" font-size="6.3" text-anchor="start" font-weight="normal" font-style="normal" fill="#222" textLength="23.57" lengthAdjust="spacingAndGlyphs" >SUV39H1</text>
<line x1="291.2" y1="66.3" x2="341" y2="100" stroke="#1a2850" stroke-width="1.1" stroke-dasharray="2.6,0.6"/>
<line x1="294.5" y1="137.3" x2="341" y2="102.2" stroke="#1a2850" stroke-width="1.1" stroke-dasharray="2.6,0.6"/>
<text x="331" y="15.3" font-size="7.9" text-anchor="start" font-weight="bold" font-style="normal" fill="#111" textLength="181.5" lengthAdjust="spacingAndGlyphs" >Enrichment plot: HALLMARK_G2M _CHECKPOINT</text>
<text x="6.6" y="219.8" font-size="11.5" text-anchor="start" font-weight="bold" font-style="normal" fill="#000" >B</text>
<text x="143.2" y="233.5" font-size="9.8" text-anchor="middle" font-weight="bold" font-style="normal" fill="#000" textLength="32" lengthAdjust="spacingAndGlyphs" >PTPRD</text>
<line x1="6.5" y1="241.0" x2="279.5" y2="241.0" stroke="#000" stroke-width="1.1" />
<text x="74.25" y="254.9" font-size="9.6" text-anchor="middle" font-weight="normal" font-style="normal" fill="#111" textLength="42.9" lengthAdjust="spacingAndGlyphs" >p.C1844S</text>
<text x="212.2" y="255.1" font-size="9.6" text-anchor="middle" font-weight="normal" font-style="normal" fill="#111" textLength="14.8" lengthAdjust="spacingAndGlyphs" >WT</text>
<rect x="8.1" y="261.3" width="132.9" height="118.3" fill="#bcae9c"/>
<rect x="8.1" y="261.3" width="132.9" height="118.3" fill="#bcae9c" filter="url(#texL)"/>
<rect x="145.2" y="261.3" width="133.4" height="118.3" fill="#a6a3bb"/>
<rect x="145.2" y="261.3" width="133.4" height="118.3" fill="#a6a3bb" filter="url(#texR)"/>
<g clip-path="url(#clipL)"><g filter="url(#soft)">
<ellipse cx="65" cy="289" rx="18" ry="14" fill="#d8d4cc" fill-opacity="0.35"/>
<ellipse cx="120" cy="286" rx="22" ry="14" fill="#d8d4cc" fill-opacity="0.35"/>
<ellipse cx="122" cy="366" rx="20" ry="12" fill="#d8d4cc" fill-opacity="0.3"/>
<ellipse cx="30" cy="281" rx="17" ry="14" fill="#8a6a50" fill-opacity="0.18"/>
<ellipse cx="44" cy="309" rx="36" ry="12" fill="#8a6a50" fill-opacity="0.16"/>
<ellipse cx="81" cy="332" rx="21" ry="14" fill="#8a6a50" fill-opacity="0.16"/>
<ellipse cx="111" cy="322" rx="31" ry="12" fill="#8a6a50" fill-opacity="0.15"/>
<ellipse cx="28" cy="363" rx="22" ry="16" fill="#8a6a50" fill-opacity="0.18"/>
</g></g>
<ellipse cx="36.5" cy="335" rx="16" ry="12" fill="url(#blob)"/>
<ellipse cx="107" cy="347" rx="6" ry="4" fill="url(#blob)" opacity="0.5"/>
<ellipse cx="223.5" cy="280.5" rx="3.5" ry="3" fill="url(#blob2)"/>
<ellipse cx="206" cy="364.5" rx="4.5" ry="3.5" fill="url(#blob2)"/>
<ellipse cx="150" cy="288" rx="3.5" ry="4" fill="url(#blob2)"/>
<rect x="8.1" y="261.3" width="132.9" height="118.3" fill="none" stroke="#111" stroke-width="1.2"/>
<rect x="145.2" y="261.3" width="133.4" height="118.3" fill="none" stroke="#111" stroke-width="1.2"/>
<text x="139.2" y="272.1" font-size="9.4" text-anchor="end" font-weight="bold" font-style="normal" fill="#000" textLength="48.4" lengthAdjust="spacingAndGlyphs" >28T_NMZL</text>
<text x="276.3" y="272.0" font-size="9.4" text-anchor="end" font-weight="bold" font-style="normal" fill="#000" textLength="42.1" lengthAdjust="spacingAndGlyphs" >1T_NMZL</text>
<text x="78.4" y="391.0" font-size="9.6" text-anchor="middle" font-weight="normal" font-style="normal" fill="#111" textLength="37.8" lengthAdjust="spacingAndGlyphs" >anti-Ki67</text>
<text x="213" y="391.0" font-size="9.6" text-anchor="middle" font-weight="normal" font-style="normal" fill="#111" textLength="37.5" lengthAdjust="spacingAndGlyphs" >anti-Ki67</text>
<text x="297.2" y="220" font-size="11.5" text-anchor="start" font-weight="bold" font-style="normal" fill="#000" >C</text>
<line x1="326" y1="225.5" x2="326" y2="375.8" stroke="#000" stroke-width="1.2" />
<line x1="325.4" y1="375.8" x2="511.6" y2="375.8" stroke="#000" stroke-width="1.2" />
<line x1="322" y1="368.6" x2="326" y2="368.6" stroke="#000" stroke-width="1" />
<text x="319.8" y="371.40000000000003" font-size="7.8" text-anchor="end" font-weight="normal" font-style="normal" fill="#111" >0</text>
<line x1="322" y1="341.40000000000003" x2="326" y2="341.40000000000003" stroke="#000" stroke-width="1" />
<text x="319.8" y="344.20000000000005" font-size="7.8" text-anchor="end" font-weight="normal" font-style="normal" fill="#111" textLength="8.6" lengthAdjust="spacingAndGlyphs" >10</text>
<line x1="322" y1="314.20000000000005" x2="326" y2="314.20000000000005" stroke="#000" stroke-width="1" />
<text x="319.8" y="317.00000000000006" font-size="7.8" text-anchor="end" font-weight="normal" font-style="normal" fill="#111" textLength="8.6" lengthAdjust="spacingAndGlyphs" >20</text>
<line x1="322" y1="287.0" x2="326" y2="287.0" stroke="#000" stroke-width="1" />
<text x="319.8" y="289.8" font-size="7.8" text-anchor="end" font-weight="normal" font-style="normal" fill="#111" textLength="8.6" lengthAdjust="spacingAndGlyphs" >30</text>
<line x1="322" y1="259.8" x2="326" y2="259.8" stroke="#000" stroke-width="1" />
<text x="319.8" y="262.6" font-size="7.8" text-anchor="end" font-weight="normal" font-style="normal" fill="#111" textLength="8.6" lengthAdjust="spacingAndGlyphs" >40</text>
<line x1="322" y1="232.60000000000002" x2="326" y2="232.60000000000002" stroke="#000" stroke-width="1" />
<text x="319.8" y="235.40000000000003" font-size="7.8" text-anchor="end" font-weight="normal" font-style="normal" fill="#111" textLength="8.6" lengthAdjust="spacingAndGlyphs" >50</text>
<g transform="translate(306.2,300.3) rotate(-90)">
<text x="0" y="0" font-size="9" text-anchor="middle" font-weight="normal" font-style="normal" fill="#111" textLength="27.4" lengthAdjust="spacingAndGlyphs" >Ki67 %</text>
</g>
<line x1="377.7" y1="314.20000000000005" x2="377.7" y2="327.8" stroke="#111" stroke-width="1" />
<line x1="377.7" y1="352.28000000000003" x2="377.7" y2="368.6" stroke="#111" stroke-width="1" />
<line x1="366.95" y1="314.20000000000005" x2="388.45" y2="314.20000000000005" stroke="#111" stroke-width="1.1" />
<line x1="366.95" y1="368.6" x2="388.45" y2="368.6" stroke="#111" stroke-width="1.1" />
<rect x="356.3" y="327.8" width="42.8" height="24.48" fill="#aa092d" />
<line x1="356.3" y1="341.40000000000003" x2="399.09999999999997" y2="341.40000000000003" stroke="#2a0008" stroke-width="1.3" />
<line x1="461.5" y1="246.20000000000002" x2="461.5" y2="259.8" stroke="#111" stroke-width="1" />
<line x1="461.5" y1="314.20000000000005" x2="461.5" y2="341.40000000000003" stroke="#111" stroke-width="1" />
<line x1="450.7" y1="246.20000000000002" x2="472.3" y2="246.20000000000002" stroke="#111" stroke-width="1.1" />
<line x1="450.7" y1="341.40000000000003" x2="472.3" y2="341.40000000000003" stroke="#111" stroke-width="1.1" />
<rect x="440.5" y="259.8" width="42.0" height="54.400000000000006" fill="#aa092d" />
<line x1="440.5" y1="287.0" x2="482.5" y2="287.0" stroke="#2a0008" stroke-width="1.3" />
<text x="400.9" y="344.9" font-size="8.2" text-anchor="start" font-weight="normal" font-style="normal" fill="#111" textLength="14.9" lengthAdjust="spacingAndGlyphs" >10%</text>
<text x="486" y="289.9" font-size="8.2" text-anchor="start" font-weight="normal" font-style="normal" fill="#111" textLength="15.8" lengthAdjust="spacingAndGlyphs" >30%</text>
<text x="503.2" y="370.8" font-size="8" text-anchor="end" font-weight="normal" font-style="normal" fill="#111" textLength="28.5" lengthAdjust="spacingAndGlyphs" ><tspan font-style="italic">P</tspan> = .005</text>
<line x1="377.7" y1="375.8" x2="377.7" y2="379.5" stroke="#000" stroke-width="1" />
<line x1="461.5" y1="375.8" x2="461.5" y2="379.5" stroke="#000" stroke-width="1" />
<text x="377.7" y="389.9" font-size="8.6" text-anchor="middle" font-weight="normal" font-style="italic" fill="#111" textLength="27" lengthAdjust="spacingAndGlyphs" >PTPRD</text>
<text x="377.7" y="399.0" font-size="8.6" text-anchor="middle" font-weight="normal" font-style="normal" fill="#111" textLength="12.5" lengthAdjust="spacingAndGlyphs" >WT</text>
<text x="377.7" y="409.0" font-size="8.6" text-anchor="middle" font-weight="normal" font-style="normal" fill="#111" textLength="24" lengthAdjust="spacingAndGlyphs" >N = 26</text>
<text x="461.5" y="389.9" font-size="8.6" text-anchor="middle" font-weight="normal" font-style="italic" fill="#111" textLength="27" lengthAdjust="spacingAndGlyphs" >PTPRD</text>
<text x="461.5" y="399.0" font-size="8.6" text-anchor="middle" font-weight="normal" font-style="normal" fill="#111" textLength="67" lengthAdjust="spacingAndGlyphs" >mutated or deleted</text>
<text x="461.5" y="409.0" font-size="8.6" text-anchor="middle" font-weight="normal" font-style="normal" fill="#111" textLength="20" lengthAdjust="spacingAndGlyphs" >N = 6</text>
</g></svg>
</body></html>
